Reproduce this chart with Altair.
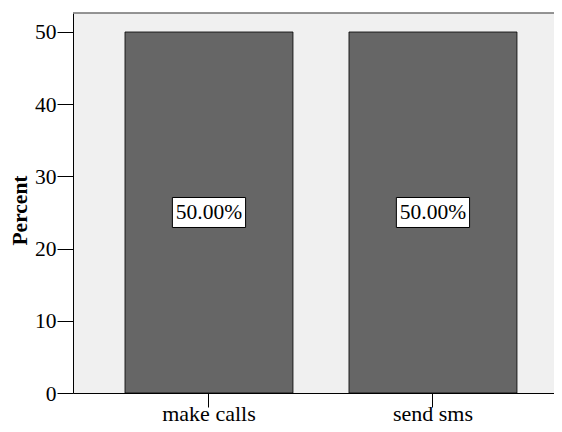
import altair as alt
import pandas as pd

categories = ["make calls", "send sms"]
percents = [50.0, 50.0]
labels = ["50.00%", "50.00%"]

df = pd.DataFrame({"cat": categories, "pct": percents, "label": labels})

FONT = "Liberation Serif"
W, H = 481, 380

xscale = alt.Scale(paddingInner=0.25, paddingOuter=0.1987, align=0.584)
yscale = alt.Scale(domain=[0, 52.63], nice=False)

x = alt.X(
    "cat:N", sort=categories, title=None, scale=xscale,
    axis=alt.Axis(labelAngle=0, labelFont=FONT, labelFontSize=22, labelColor="black",
                  tickSize=14, tickColor="black", domainColor="black",
                  labelBaseline="alphabetic", labelPadding=13, labelAlign="center"),
)
y = alt.Y(
    "pct:Q", scale=yscale,
    axis=alt.Axis(values=[0, 10, 20, 30, 40, 50], tickSize=16, tickColor="black",
                  domainColor="black", labelPadding=1, grid=False,
                  labelFont=FONT, labelFontSize=21.5, labelColor="black",
                  labelBaseline="middle", labelOffset=1,
                  title="Percent", titleFont=FONT, titleFontSize=21.5,
                  titleFontWeight="bold", titleColor="black",
                  titleAngle=270, titleAlign="center", titleBaseline="middle",
                  titleX=-53, titleY=197),
)

base = alt.Chart(df)

bars = base.mark_bar(color="#666666", stroke="black", strokeWidth=0.8).encode(x=x, y=y)

border = base.mark_rule(color="#707070", strokeWidth=1).encode(
    x=alt.value(0), x2=alt.value(W), y=alt.value(0)
)

box = base.transform_calculate(mid="datum.pct / 2").mark_point(
    shape="M-1.22,-0.5H1.22V0.5H-1.22Z", size=3600, filled=False,
    fill="white", fillOpacity=1, stroke="black", strokeWidth=1, opacity=1,
).encode(x=alt.X("cat:N", sort=categories), y=alt.Y("mid:Q"))

text = base.transform_calculate(mid="datum.pct / 2").mark_text(
    font=FONT, fontSize=21.5, color="black", baseline="middle", align="center", dy=1
).encode(x=alt.X("cat:N", sort=categories), y=alt.Y("mid:Q"), text="label:N")

chart = alt.layer(bars, border, box, text).properties(
    width=W, height=H,
    autosize=alt.AutoSizeParams(type="none"),
    padding={"left": 65, "top": 5, "right": 0, "bottom": 31},
    background="white",
).configure_view(fill="#f0f0f0", stroke="transparent")

chart.save("out.html", embed_options={"renderer": "svg", "actions": False})
